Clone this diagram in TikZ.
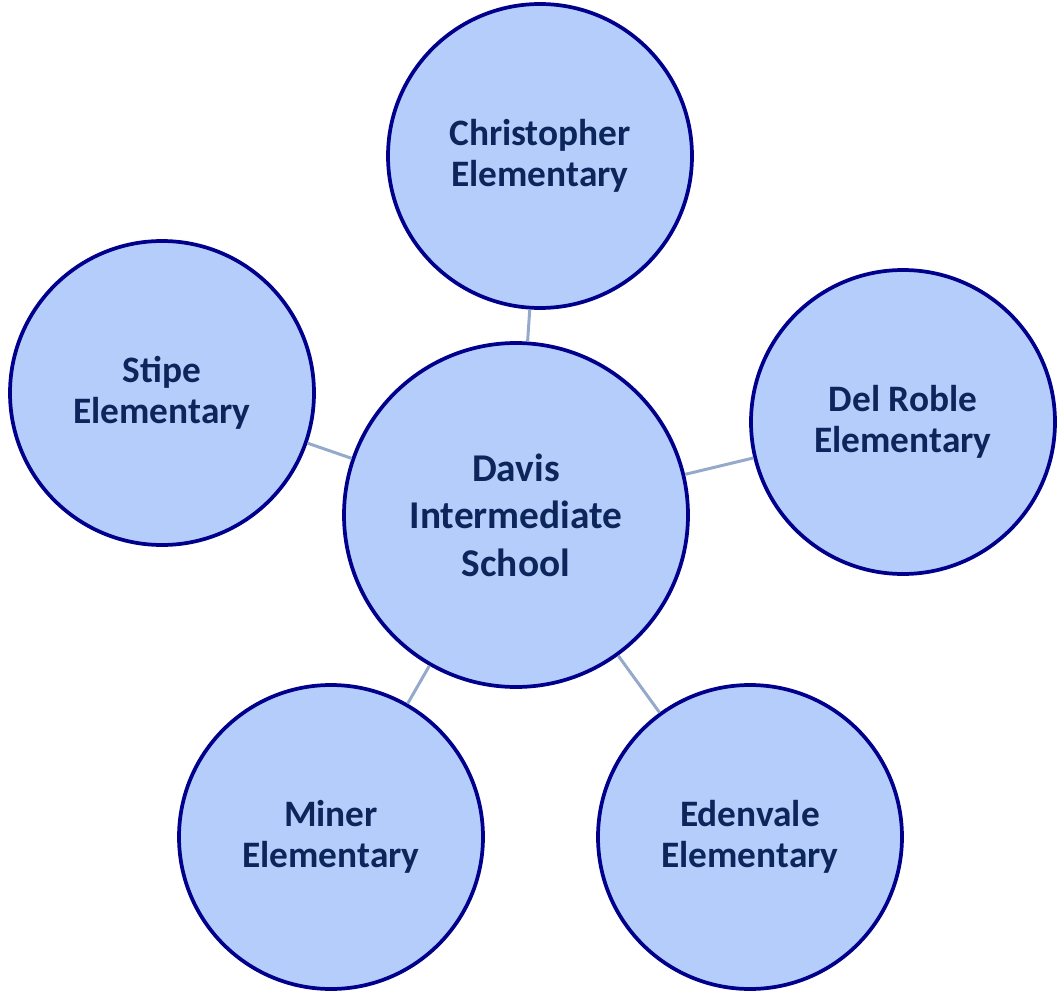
\documentclass[tikz,border=0pt]{standalone}
\usepackage{fontspec}
\setmainfont{Carlito}
\usepackage{tikz}
\usetikzlibrary{positioning}

\definecolor{ringblue}{RGB}{0,0,140}
\definecolor{discfill}{RGB}{181,205,250}
\definecolor{labelnavy}{RGB}{12,38,92}
\definecolor{spokegray}{RGB}{149,169,203}

\begin{document}
\begin{tikzpicture}[
        x=0.75pt, y=-0.75pt,
        feeder/.style={circle, draw=ringblue, fill=discfill, line width=2.8pt, minimum size=228pt, inner sep=0pt, align=center, text=labelnavy, font=\fontsize{28}{30.75}\selectfont\bfseries},
        hub/.style={feeder, minimum size=258pt, font=\fontsize{29.5}{35.6}\selectfont\bfseries},
        spoke/.style={draw=spokegray, line width=2.25pt}
    ]
    \useasboundingbox (0,0) rectangle (1057,995);

    \node[hub]    (davis)  at (516,515) {Davis\\Intermediate\\School};
    \node[feeder] (chris)  at (540,156) {Christopher\\Elementary};
    \node[feeder] (stipe)  at (162,393) {Stipe\\Elementary};
    \node[feeder] (roble)  at (903,422) {Del Roble\\Elementary};
    \node[feeder] (miner)  at (331,837) {Miner\\Elementary};
    \node[feeder] (eden)   at (750,837) {Edenvale\\Elementary};

    \draw[spoke] (davis) -- (chris);
    \draw[spoke] (davis) -- (stipe);
    \draw[spoke] (davis) -- (roble);
    \draw[spoke] (davis) -- (miner);
    \draw[spoke] (davis) -- (eden);
\end{tikzpicture}
\end{document}
